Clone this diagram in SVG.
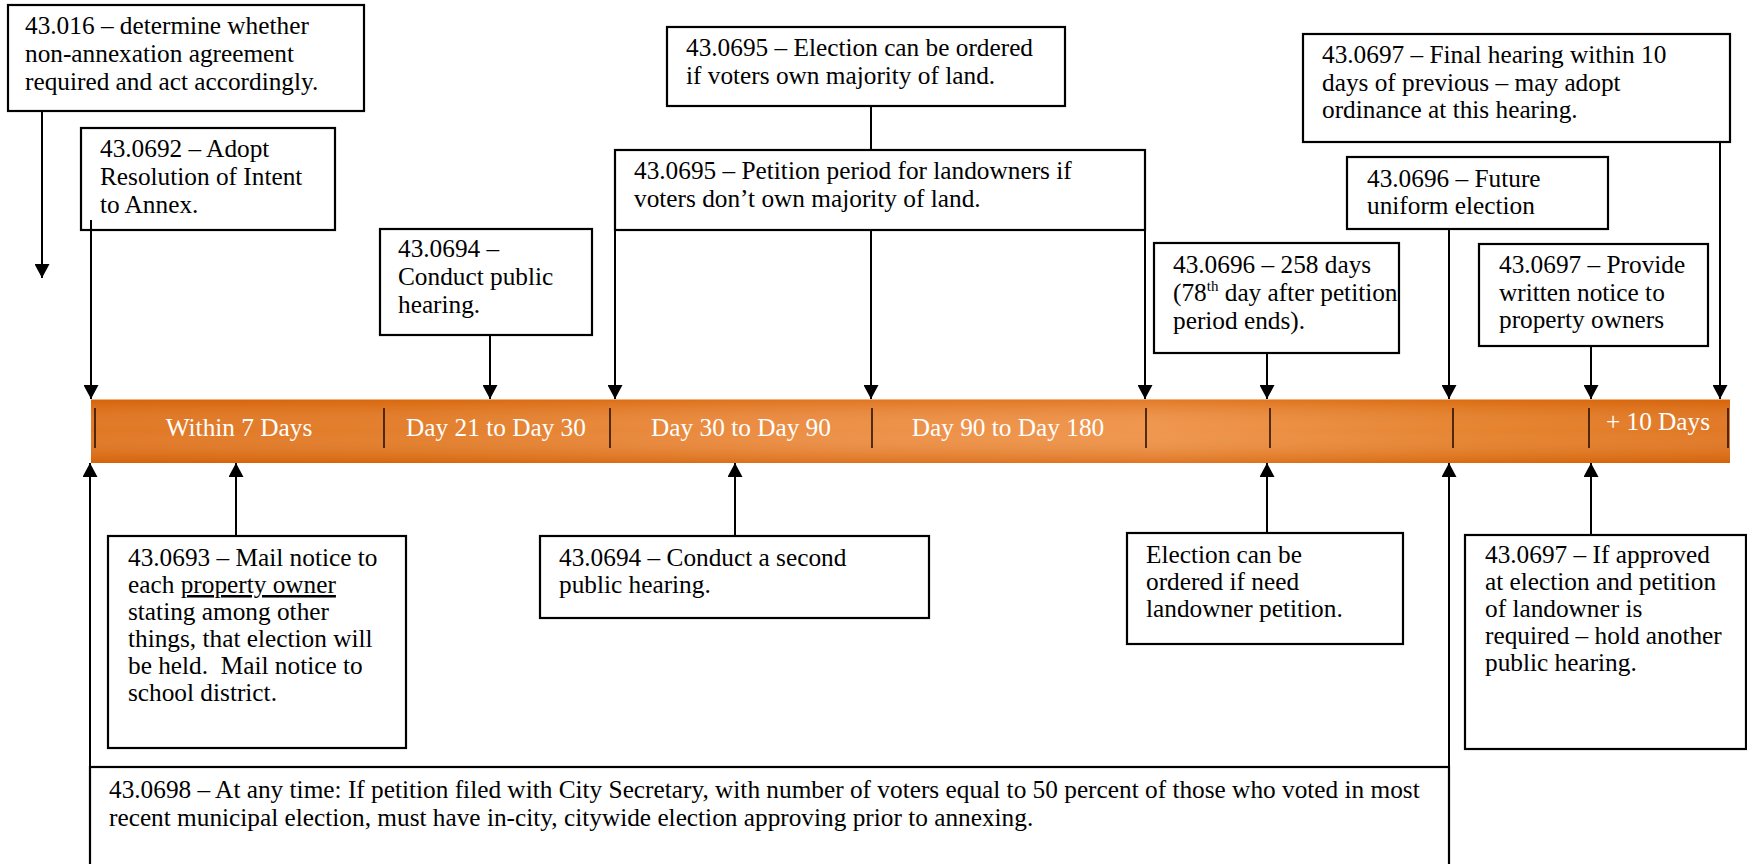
<svg xmlns="http://www.w3.org/2000/svg" width="1747" height="864" viewBox="0 0 1747 864">
<style>
.box{fill:#fff;stroke:#000;stroke-width:2.2}
.t{font-family:"Liberation Serif","Times New Roman",serif;font-size:25.3px;fill:#000}
.bl{font-family:"Liberation Serif","Times New Roman",serif;font-size:25.3px;fill:#fff;text-anchor:middle}
.c{stroke:#000;stroke-width:2;fill:none}
.a{marker-end:url(#arr)}
.div{stroke:#2a1200;stroke-width:1.6}
</style>
<defs>
<marker id="arr" markerWidth="15" markerHeight="15" refX="14" refY="7.5" orient="auto" markerUnits="userSpaceOnUse">
<path d="M0,0 L14,7.5 L0,15 z" fill="#000"/>
</marker>
<linearGradient id="gh" x1="0" y1="0" x2="1" y2="0">
<stop offset="0" stop-color="#DD680C"/>
<stop offset="0.2" stop-color="#E07014"/>
<stop offset="0.45" stop-color="#EB8331"/>
<stop offset="0.65" stop-color="#EE8A39"/>
<stop offset="0.85" stop-color="#E37517"/>
<stop offset="1" stop-color="#DD680C"/>
</linearGradient>
<linearGradient id="gv" x1="0" y1="0" x2="0" y2="1">
<stop offset="0" stop-color="#C85800" stop-opacity="0.35"/>
<stop offset="0.5" stop-color="#FFFFFF" stop-opacity="0.1"/>
<stop offset="1" stop-color="#C85800" stop-opacity="0.4"/>
</linearGradient>
</defs>

<g id="timeline">
<rect x="91" y="399" width="1639" height="64" fill="url(#gh)"/>
<rect x="91" y="399" width="1639" height="64" fill="url(#gv)"/>
<line x1="91" y1="399.5" x2="1730" y2="399.5" stroke="#F6B27A" stroke-width="1"/>
<line class="div" x1="95" y1="408" x2="95" y2="448"/>
<line class="div" x1="384" y1="408" x2="384" y2="448"/>
<line class="div" x1="610" y1="408" x2="610" y2="448"/>
<line class="div" x1="872" y1="408" x2="872" y2="448"/>
<line class="div" x1="1146" y1="408" x2="1146" y2="448"/>
<line class="div" x1="1270" y1="408" x2="1270" y2="448"/>
<line class="div" x1="1453" y1="408" x2="1453" y2="448"/>
<line class="div" x1="1589" y1="408" x2="1589" y2="448"/>
<line class="div" x1="1728" y1="408" x2="1728" y2="448"/>
<text class="bl" x="239" y="436">Within 7 Days</text>
<text class="bl" x="496" y="436">Day 21 to Day 30</text>
<text class="bl" x="741" y="436">Day 30 to Day 90</text>
<text class="bl" x="1008" y="436">Day 90 to Day 180</text>
<text class="bl" x="1658" y="430">+ 10 Days</text>
</g>

<g id="n43016">
<rect class="box" x="8" y="5" width="356" height="106"/>
<text class="t" x="25" y="34">43.016 – determine whether</text>
<text class="t" x="25" y="62">non-annexation agreement</text>
<text class="t" x="25" y="90">required and act accordingly.</text>
</g>

<g id="n430692">
<rect class="box" x="81" y="128" width="254" height="102"/>
<text class="t" x="100" y="157">43.0692 – Adopt</text>
<text class="t" x="100" y="185">Resolution of Intent</text>
<text class="t" x="100" y="213">to Annex.</text>
</g>

<g id="n430694a">
<rect class="box" x="380" y="229" width="212" height="106"/>
<text class="t" x="398" y="257">43.0694 –</text>
<text class="t" x="398" y="285">Conduct public</text>
<text class="t" x="398" y="313">hearing.</text>
</g>

<g id="n430695a">
<rect class="box" x="667" y="27" width="398" height="79"/>
<text class="t" x="686" y="56">43.0695 – Election can be ordered</text>
<text class="t" x="686" y="84">if voters own majority of land.</text>
</g>

<g id="n430695b">
<rect class="box" x="615" y="150" width="530" height="80"/>
<text class="t" x="634" y="179">43.0695 – Petition period for landowners if</text>
<text class="t" x="634" y="207">voters don’t own majority of land.</text>
</g>

<g id="n430696a">
<rect class="box" x="1154" y="243" width="245" height="110"/>
<text class="t" x="1173" y="273">43.0696 – 258 days</text>
<text class="t" x="1173" y="301">(78<tspan font-size="15" dy="-10">th</tspan><tspan dy="10"> day after petition</tspan></text>
<text class="t" x="1173" y="329">period ends).</text>
</g>

<g id="n430697a">
<rect class="box" x="1303" y="34" width="427" height="108"/>
<text class="t" x="1322" y="63">43.0697 – Final hearing within 10</text>
<text class="t" x="1322" y="91">days of previous – may adopt</text>
<text class="t" x="1322" y="118">ordinance at this hearing.</text>
</g>

<g id="n430696b">
<rect class="box" x="1347" y="157" width="261" height="72"/>
<text class="t" x="1367" y="187">43.0696 – Future</text>
<text class="t" x="1367" y="214">uniform election</text>
</g>

<g id="n430697b">
<rect class="box" x="1479" y="244" width="229" height="102"/>
<text class="t" x="1499" y="273">43.0697 – Provide</text>
<text class="t" x="1499" y="301">written notice to</text>
<text class="t" x="1499" y="328">property owners</text>
</g>

<g id="n430693">
<rect class="box" x="108" y="536" width="298" height="212"/>
<text class="t" x="128" y="566">43.0693 – Mail notice to</text>
<text class="t" x="128" y="593">each <tspan text-decoration="underline">property owner</tspan></text>
<text class="t" x="128" y="620">stating among other</text>
<text class="t" x="128" y="647">things, that election will</text>
<text class="t" x="128" y="674" xml:space="preserve">be held.  Mail notice to</text>
<text class="t" x="128" y="701">school district.</text>
</g>

<g id="n430694b">
<rect class="box" x="540" y="536" width="389" height="82"/>
<text class="t" x="559" y="566">43.0694 – Conduct a second</text>
<text class="t" x="559" y="593">public hearing.</text>
</g>

<g id="nElection">
<rect class="box" x="1127" y="533" width="276" height="111"/>
<text class="t" x="1146" y="563">Election can be</text>
<text class="t" x="1146" y="590">ordered if need</text>
<text class="t" x="1146" y="617">landowner petition.</text>
</g>

<g id="n430697c">
<rect class="box" x="1465" y="535" width="281" height="214"/>
<text class="t" x="1485" y="563">43.0697 – If approved</text>
<text class="t" x="1485" y="590">at election and petition</text>
<text class="t" x="1485" y="617">of landowner is</text>
<text class="t" x="1485" y="644">required – hold another</text>
<text class="t" x="1485" y="671">public hearing.</text>
</g>

<g id="n430698">
<rect class="box" x="90" y="767" width="1359" height="110"/>
<text class="t" x="109" y="798">43.0698 – At any time: If petition filed with City Secretary, with number of voters equal to 50 percent of those who voted in most</text>
<text class="t" x="109" y="826">recent municipal election, must have in-city, citywide election approving prior to annexing.</text>
</g>

<g id="connectors">
<line class="c a" x1="42" y1="111" x2="42" y2="278"/>
<line class="c a" x1="91" y1="220" x2="91" y2="399"/>
<line class="c a" x1="490" y1="335" x2="490" y2="399"/>
<line class="c" x1="871" y1="106" x2="871" y2="150"/>
<line class="c a" x1="615" y1="230" x2="615" y2="399"/>
<line class="c a" x1="871" y1="230" x2="871" y2="399"/>
<line class="c a" x1="1145" y1="230" x2="1145" y2="399"/>
<line class="c a" x1="1267" y1="353" x2="1267" y2="399"/>
<line class="c a" x1="1449" y1="229" x2="1449" y2="399"/>
<line class="c a" x1="1591" y1="346" x2="1591" y2="399"/>
<line class="c a" x1="1720" y1="142" x2="1720" y2="399"/>
<line class="c a" x1="236" y1="536" x2="236" y2="463"/>
<line class="c a" x1="735" y1="536" x2="735" y2="463"/>
<line class="c a" x1="1267" y1="533" x2="1267" y2="463"/>
<line class="c a" x1="1591" y1="535" x2="1591" y2="463"/>
<line class="c a" x1="90" y1="767" x2="90" y2="463"/>
<line class="c a" x1="1449" y1="864" x2="1449" y2="463"/>
</g>
</svg>
